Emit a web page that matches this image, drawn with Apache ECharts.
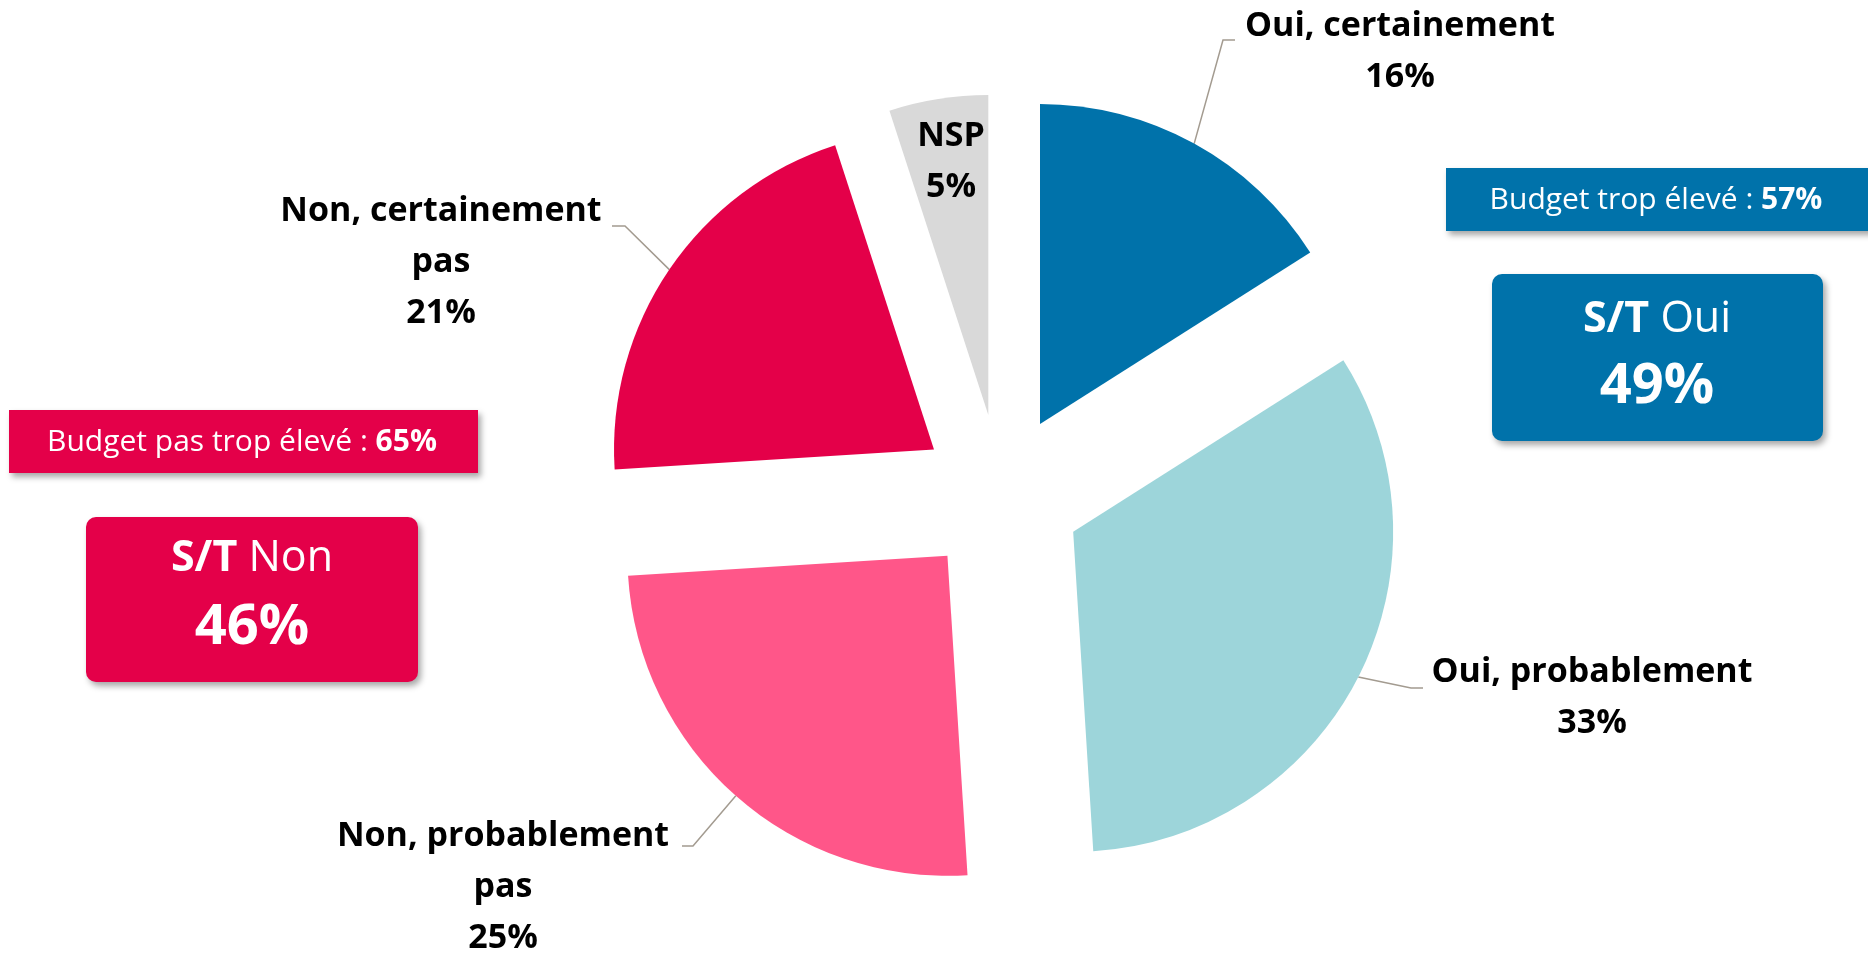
<!DOCTYPE html>
<html>
<head>
<meta charset="utf-8">
<script src="https://cdn.jsdelivr.net/npm/echarts@6/dist/echarts.min.js"></script>
<style>
  html, body { margin: 0; padding: 0; background: #fff; }
  #chart { width: 1868px; height: 956px; }
</style>
</head>
<body>
<div id="chart"></div>
<script>
// answers, clockwise from 12 o'clock
const categories = ['Oui, certainement', 'Oui, probablement', 'Non, probablement\npas', 'Non, certainement\npas', 'NSP']
const values = [16, 33, 25, 21, 5]
const colors = ['#0072AA', '#9DD5DA', '#FF5689', '#E40049', '#D9D9D9']

// side boxes
const budgetLabels = ['Budget trop élevé : ', 'Budget pas trop élevé : ']
const budgetValues = [57, 65]
const netLabels = ['Oui', 'Non']
const netValues = [49, 46]

// pie geometry
const pieCenter = [1001, 495]
const pieRadius = 320
const explode = 81

// centre of each text block and the elbow of its leader line
const labelPos = [
  { x: 1400, y: 52, elbow: [[1223, 40], [1235, 40]] },
  { x: 1592, y: 698, elbow: [[1411, 688], [1423, 688]] },
  { x: 503, y: 887, elbow: [[693, 846], [682, 846]] },
  { x: 441, y: 262, elbow: [[625, 226], [612, 226]] },
  { x: 951, y: 162, elbow: null }
]

const chart = echarts.init(document.getElementById('chart'))
const font = '"Open Sans", Lato, sans-serif'

// one series per slice, each pushed out along its own mid angle
const total = values.reduce((a, b) => a + b, 0)
let acc = 0
const series = values.map((v, i) => {
  const mid = (acc + v / 2) / total * Math.PI * 2
  acc += v
  return {
    type: 'pie',
    center: [pieCenter[0] + explode * Math.sin(mid), pieCenter[1] - explode * Math.cos(mid)],
    radius: pieRadius,
    startAngle: 90,
    clockwise: true,
    avoidLabelOverlap: false,
    silent: true,
    label: {
      show: false,
      formatter: '{b}\n{c}%',
      fontFamily: font,
      fontWeight: 'bold',
      fontSize: 34,
      lineHeight: 51,
      color: '#000',
      align: 'center'
    },
    labelLine: {
      show: false,
      lineStyle: { color: '#A39B90', width: 1.5 }
    },
    labelLayout: function (params) {
      const p = labelPos[params.dataIndex]
      const out = { x: p.x, y: p.y, align: 'center', verticalAlign: 'middle' }
      if (p.elbow && params.labelLinePoints) {
        out.labelLinePoints = [params.labelLinePoints[0]].concat(p.elbow)
      }
      return out
    },
    data: categories.map((name, j) => ({
      name: name,
      value: values[j],
      itemStyle: { color: j === i ? colors[j] : 'rgba(0,0,0,0)' },
      label: { show: j === i, position: j === 4 ? 'inside' : 'outside' },
      labelLine: { show: j === i && j !== 4 }
    }))
  }
})

function box(x, y, w, h, r, color, textItems) {
  return {
    type: 'group',
    children: [
      {
        type: 'rect',
        shape: { x: x, y: y, width: w, height: h, r: r },
        style: {
          fill: color,
          shadowBlur: 6,
          shadowOffsetX: 3,
          shadowOffsetY: 4,
          shadowColor: 'rgba(0,0,0,0.35)'
        }
      }
    ].concat(textItems)
  }
}

function txt(x, y, text, rich) {
  return {
    type: 'text',
    x: x,
    y: y,
    style: {
      text: text,
      rich: rich,
      fill: '#fff',
      align: 'center',
      verticalAlign: 'middle'
    }
  }
}

const smallRich = {
  n: { fontFamily: font, fontSize: 30, color: '#fff' },
  b: { fontFamily: font, fontSize: 30, fontWeight: 'bold', color: '#fff' }
}
const bigRich = {
  b: { fontFamily: font, fontSize: 43, fontWeight: 'bold', color: '#fff' },
  n: { fontFamily: font, fontSize: 43, color: '#fff' },
  p: { fontFamily: font, fontSize: 56, fontWeight: 'bold', color: '#fff' }
}

const option = {
  backgroundColor: '#fff',
  animation: false,
  series: series,
  graphic: [
    box(1446, 168, 440, 63, 0, colors[0], [
      txt(1656, 200, '{n|' + budgetLabels[0] + '}{b|' + budgetValues[0] + '%}', smallRich)
    ]),
    box(1492, 274, 331, 167, 10, colors[0], [
      txt(1657, 320, '{b|S/T }{n|' + netLabels[0] + '}', bigRich),
      txt(1657, 387, '{p|' + netValues[0] + '%}', bigRich)
    ]),
    box(9, 410, 469, 63, 0, colors[3], [
      txt(242, 442, '{n|' + budgetLabels[1] + '}{b|' + budgetValues[1] + '%}', smallRich)
    ]),
    box(86, 517, 332, 165, 10, colors[3], [
      txt(252, 559, '{b|S/T }{n|' + netLabels[1] + '}', bigRich),
      txt(252, 628, '{p|' + netValues[1] + '%}', bigRich)
    ])
  ]
}

chart.setOption(option)
window.addEventListener('resize', () => chart.resize())
</script>
</body>
</html>
